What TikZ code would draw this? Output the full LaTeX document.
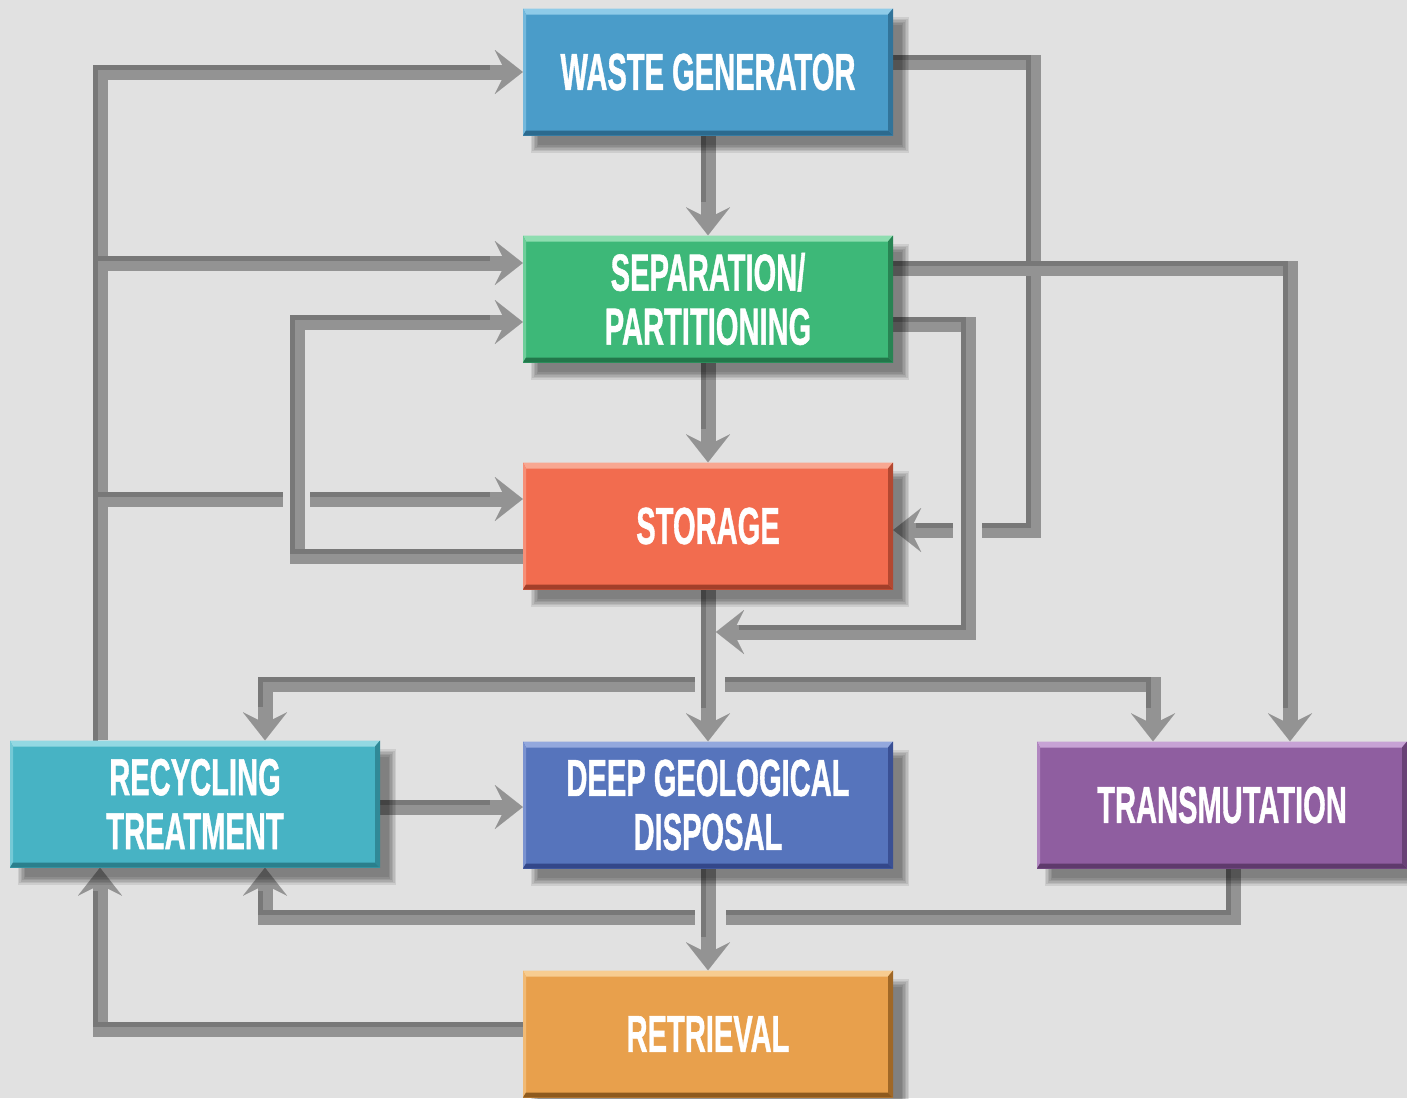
\documentclass[tikz,border=0pt]{standalone}
\usepackage{fontspec}
\setmainfont{Liberation Sans}[BoldFeatures={FakeBold=1.2}]
\usetikzlibrary{arrows.meta}
\definecolor{bg}{HTML}{E1E1E1}
\definecolor{lineg}{HTML}{939393}
\definecolor{lined}{HTML}{787878}
\definecolor{wgc}{HTML}{4A9CC9}\definecolor{wgl}{HTML}{8FCBE8}\definecolor{wgd}{HTML}{2C6A8E}
\definecolor{sepc}{HTML}{3DB878}\definecolor{sepl}{HTML}{8EDDB0}\definecolor{sepd}{HTML}{22774A}
\definecolor{stoc}{HTML}{F26C4F}\definecolor{stol}{HTML}{F8A791}\definecolor{stod}{HTML}{A33F2A}
\definecolor{recc}{HTML}{47B3C4}\definecolor{recl}{HTML}{93D8E2}\definecolor{recd}{HTML}{2A7F8C}
\definecolor{dgdc}{HTML}{5674BC}\definecolor{dgdl}{HTML}{93A8DD}\definecolor{dgdd}{HTML}{33478A}
\definecolor{trac}{HTML}{8F5EA0}\definecolor{tral}{HTML}{C7A2D5}\definecolor{trad}{HTML}{5F3A6C}
\definecolor{retc}{HTML}{E8A04C}\definecolor{retl}{HTML}{F7CC90}\definecolor{retd}{HTML}{8E5A1E}
\newcommand\sq[1]{\scalebox{0.56}[1]{#1}}
\pgfdeclarelayer{bgl}
\pgfdeclarelayer{lines}
\pgfdeclarelayer{shad}
\pgfsetlayers{bgl,lines,shad,main}
\begin{document}
\begin{tikzpicture}[x=1pt,y=-1pt,
  conn/.style={draw=lineg, line width=15pt, line join=miter, line cap=butt,
    postaction={-, draw=lined, line width=5pt, shorten <=-6pt, shorten >=28pt,
      transform canvas={shift={(-5pt,5pt)}}}},
  arr/.style={-{Stealth[length=28pt,width=44pt,inset=11pt,line width=0.01pt]}},
  gap/.style={fill=bg},
  procbox/.style={minimum width=370pt, minimum height=127pt, inner sep=0pt, fill=#1c,
    text=white, align=center, font=\fontsize{52}{54}\selectfont\bfseries,
    path picture={
      \fill[#1l] (path picture bounding box.north west) -- (path picture bounding box.north east)
        -- ([xshift=-5pt,yshift=-6pt]path picture bounding box.north east)
        -- ([xshift=3pt,yshift=-6pt]path picture bounding box.north west) -- cycle;
      \fill[#1l!60!#1c] (path picture bounding box.north west)
        -- ([xshift=3pt,yshift=-6pt]path picture bounding box.north west)
        -- ([xshift=3pt,yshift=5pt]path picture bounding box.south west)
        -- (path picture bounding box.south west) -- cycle;
      \fill[#1d] (path picture bounding box.south west)
        -- ([xshift=3pt,yshift=5pt]path picture bounding box.south west)
        -- ([xshift=-5pt,yshift=5pt]path picture bounding box.south east)
        -- (path picture bounding box.south east) -- cycle;
      \fill[#1d!80!#1c] (path picture bounding box.north east)
        -- ([xshift=-5pt,yshift=-6pt]path picture bounding box.north east)
        -- ([xshift=-5pt,yshift=5pt]path picture bounding box.south east)
        -- (path picture bounding box.south east) -- cycle;
    }}]
\begin{pgfonlayer}{bgl}
\fill[bg] (0,0) rectangle (1407,1098);
\end{pgfonlayer}
\useasboundingbox (0,0) rectangle (1407,1098);

% boxes
\node[procbox=wg]  (wg)  at (708,72)   {\sq{WASTE GENERATOR}};
\node[procbox=sep] (sep) at (708,299)  {\sq{SEPARATION/}\\\sq{PARTITIONING}};
\node[procbox=sto] (sto) at (708,526)  {\sq{STORAGE}};
\node[procbox=rec] (rec) at (195,804)  {\sq{RECYCLING}\\\sq{TREATMENT}};
\node[procbox=dgd] (dgd) at (708,805)  {\sq{DEEP GEOLOGICAL}\\\sq{DISPOSAL}};
\node[procbox=tra] (tra) at (1222,805) {\sq{TRANSMUTATION}};
\node[procbox=ret] (ret) at (708,1034) {\sq{RETRIEVAL}};

% soft drop shadows
\begin{pgfonlayer}{shad}
\foreach \n in {wg,sep,sto,rec,dgd,tra,ret}{
  \foreach \e in {4,2.5,1,-0.5,-2,-3.5}{
    \fill[black,opacity=0.085]
      ([xshift={(12-\e)*1pt},yshift={(-13+\e)*1pt}]\n.north west) rectangle
      ([xshift={(12+\e)*1pt},yshift={(-13-\e)*1pt}]\n.south east);
  }}
\end{pgfonlayer}

\begin{pgfonlayer}{lines}
% recycling feeds the upper boxes along the left trunk
\draw[conn,arr] (rec.north -| 100,0) |- (wg.west);
\draw[conn,arr] (rec.north -| 100,0) |- (sep.west |- 0,263);
\draw[conn,arr] (rec.north -| 100,0) |- (sto.west |- 0,499);
\fill[gap] (283,488) rectangle (310,510);
% storage back to separation
\draw[conn,arr] (sto.west |- 0,556) -- (297,556) |- (sep.west |- 0,322);
% waste generator straight to storage (right side)
\draw[conn,arr] (wg.east |- 0,62) -- (1033,62) |- (sto.east |- 0,530);
\fill[gap] (953,519) rectangle (982,541);
% separation to the storage output line
\coordinate (joinA) at (716,632);
\draw[conn,arr] (sep.east |- 0,324) -| (968,632) -- (joinA);
% separation to transmutation
\draw[conn,arr] (sep.east |- 0,268) -| (tra.north -| 1290,0);
% main column
\draw[conn,arr] (wg.south) -- (sep.north);
\draw[conn,arr] (sep.south) -- (sto.north);
\draw[conn,arr] (sto.south) |- (265,684) -- (rec.north -| 265,0);
\draw[conn,arr] (sto.south) |- (1153,684) -- (tra.north -| 1153,0);
\fill[gap] (695,673) rectangle (725,695);
\draw[conn,arr] (sto.south) -- (dgd.north);
% recycling to disposal
\draw[conn,arr] (rec.east |- 0,807) -- (dgd.west |- 0,807);
% transmutation back to recycling
\draw[conn,arr] (tra.south -| 1233,0) |- (265,917) -- (rec.south -| 265,0);
\fill[gap] (695,906) rectangle (726,928);
\draw[conn,arr] (dgd.south) -- (ret.north);
% retrieval back to recycling
\draw[conn,arr] (ret.west |- 0,1029) -| (rec.south -| 100,0);
\end{pgfonlayer}
\end{tikzpicture}
\end{document}
